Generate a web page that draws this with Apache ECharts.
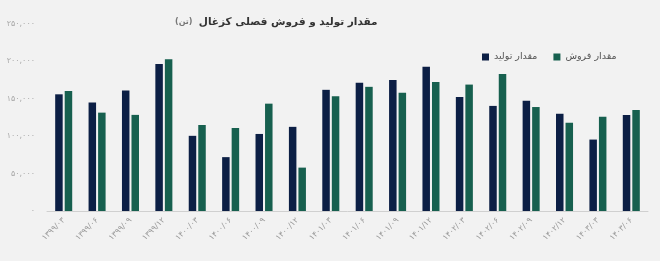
<!DOCTYPE html>
<html>
<head>
<meta charset="utf-8">
<script src="https://cdn.jsdelivr.net/npm/echarts@6/dist/echarts.min.js"></script>
<style>
html,body{margin:0;padding:0;background:#f2f2f2;}
#c{width:660px;height:261px;}
</style>
</head>
<body>
<div id="c"></div>
<script>
var categories = ['۱۳۹۹/۰۳','۱۳۹۹/۰۶','۱۳۹۹/۰۹','۱۳۹۹/۱۲','۱۴۰۰/۰۳','۱۴۰۰/۰۶','۱۴۰۰/۰۹','۱۴۰۰/۱۲','۱۴۰۱/۰۳','۱۴۰۱/۰۶','۱۴۰۱/۰۹','۱۴۰۱/۱۲','۱۴۰۲/۰۳','۱۴۰۲/۰۶','۱۴۰۲/۰۹','۱۴۰۲/۱۲','۱۴۰۳/۰۳','۱۴۰۳/۰۶'];
var production = [156000,145000,161000,196500,100500,72000,103000,112500,162000,171500,175000,193000,152500,140500,147500,130000,95500,128500];
var sales = [160500,131500,128500,203000,115000,111000,143500,58000,153500,166000,158000,172500,169000,183000,139000,118000,126000,135000];
var yTickValues = [0,50000,100000,150000,200000,250000];
var yTickLabels = ['۰','۵۰,۰۰۰','۱۰۰,۰۰۰','۱۵۰,۰۰۰','۲۰۰,۰۰۰','۲۵۰,۰۰۰'];
var seriesNames = ['مقدار تولید','مقدار فروش'];

var FONT = '"DejaVu Sans", sans-serif';
var chart = echarts.init(document.getElementById('c'), null, {renderer:'canvas'});
chart.setOption({
  backgroundColor:'#f2f2f2',
  animation:false,
  textStyle:{fontFamily:FONT},
  title:{
    text:'{s|(تن)} {m|مقدار تولید و فروش فصلی کزغال}',
    left:170, top:8,
    textStyle:{
      rich:{
        m:{fontSize:10.5,fontWeight:'bold',color:'#333',fontFamily:FONT},
        s:{fontSize:8,color:'#777',fontFamily:FONT}
      }
    }
  },
  legend:{
    data:seriesNames,
    left:477, top:47,
    icon:'rect', itemWidth:7, itemHeight:7, itemGap:16,
    textStyle:{fontSize:9.5,color:'#555',fontFamily:FONT}
  },
  grid:{left:47,right:12,top:24,bottom:50,containLabel:false},
  xAxis:{
    type:'category',
    data:categories,
    axisLine:{lineStyle:{color:'#d0d0d0'}},
    axisTick:{show:false},
    axisLabel:{rotate:45,fontSize:8,color:'#999',margin:8,fontFamily:FONT,interval:0}
  },
  yAxis:{
    type:'value',
    min:0,max:250000,interval:50000,
    axisLine:{show:false},
    axisTick:{show:false},
    splitLine:{show:false},
    axisLabel:{fontSize:8,color:'#aaa',margin:12,fontFamily:FONT,
      formatter:function(v){var i=yTickValues.indexOf(v);return i>=0?yTickLabels[i]:'';}}
  },
  series:[
    {name:seriesNames[0],type:'bar',data:production,barWidth:7.5,barGap:'27%',itemStyle:{color:'#0c1f45'}},
    {name:seriesNames[1],type:'bar',data:sales,barWidth:7.5,itemStyle:{color:'#17604f'}}
  ]
});
</script>
</body>
</html>
